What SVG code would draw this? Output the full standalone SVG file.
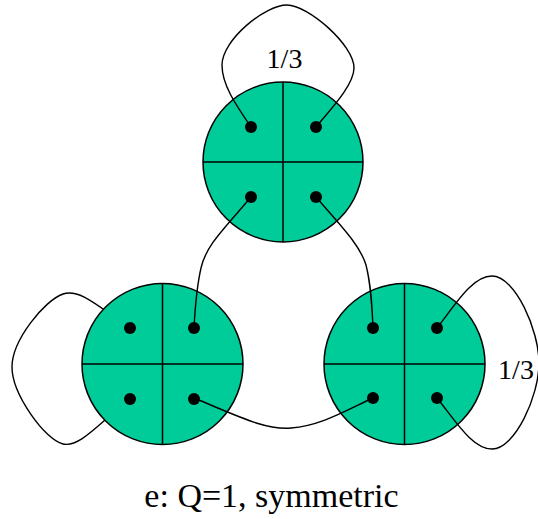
<svg xmlns="http://www.w3.org/2000/svg" width="538" height="519" viewBox="0 0 538 519">
<style>
.node{fill:#00CC99;stroke:#000;stroke-width:1.5}
.div{stroke:#000;stroke-width:1.5;fill:none}
.conn{fill:none;stroke:#000;stroke-width:1.4}
.dot{fill:#000}
.lbl{font-family:"Liberation Serif","Times New Roman",serif;fill:#000}
</style>
<rect width="538" height="519" fill="#fff"/>
<g id="connectors-back">
<path class="conn" d="M130,328 C100,308 80,288 63,294 C45,300 12,340 12,367 C12,394 45,440 63,444 C80,448 100,422 130,399"/>
</g>
<g id="node-top">
<circle class="node" cx="283" cy="162" r="80"/>
<path class="div" d="M203,162H363M283,82V242"/>
</g>
<g id="node-left">
<circle class="node" cx="162.5" cy="364" r="80.5"/>
<path class="div" d="M82,364H243M162.5,283.5V444.5"/>
</g>
<g id="node-right">
<circle class="node" cx="404.5" cy="364" r="80.5"/>
<path class="div" d="M324,364H485M404.5,283.5V444.5"/>
</g>
<g id="connectors">
<path class="conn" d="M251,127 C236,105 222,85 222,65 C222,40 265,5 287,5 C308,5 354,45 354,68 C354,85 330,110 316,127"/>
<path class="conn" d="M251,197 C225,228 206,245 201,268 C196,290 195,310 194,328"/>
<path class="conn" d="M316,197 C341,226 360,245 366,265 C371,285 372,305 373,328"/>
<path class="conn" d="M194,398 C240,417 265,430 291,428 C320,426 345,411 373,398"/>
<path class="conn" d="M437,328 C455,305 472,276 492,276 C515,276 539,330 539,363 C539,396 515,449 492,449 C472,449 455,420 437,398"/>
</g>
<g id="ports">
<circle class="dot" cx="251" cy="127" r="6"/>
<circle class="dot" cx="316" cy="127" r="6"/>
<circle class="dot" cx="251" cy="197" r="6"/>
<circle class="dot" cx="316" cy="197" r="6"/>
<circle class="dot" cx="130" cy="328" r="6"/>
<circle class="dot" cx="194" cy="328" r="6"/>
<circle class="dot" cx="130" cy="399" r="6"/>
<circle class="dot" cx="194" cy="399" r="6"/>
<circle class="dot" cx="373" cy="328" r="6"/>
<circle class="dot" cx="437" cy="328" r="6"/>
<circle class="dot" cx="373" cy="398" r="6"/>
<circle class="dot" cx="437" cy="398" r="6"/>
</g>
<g id="labels">
<text class="lbl" x="284.5" y="68" font-size="28" text-anchor="middle">1/3</text>
<text class="lbl" x="516" y="379" font-size="28" text-anchor="middle">1/3</text>
<text class="lbl" x="271.5" y="507" font-size="34" text-anchor="middle">e: Q=1, symmetric</text>
</g>
</svg>
